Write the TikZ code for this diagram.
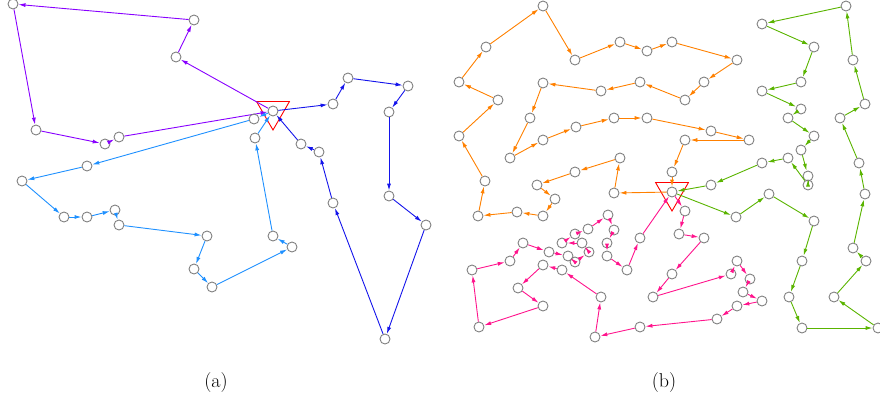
\documentclass[tikz,border=0pt]{standalone}
\usetikzlibrary{arrows.meta,shapes.geometric}

\definecolor{purp}{RGB}{136,0,255}
\definecolor{lblue}{RGB}{30,144,255}
\definecolor{dblue}{RGB}{20,20,235}
\definecolor{orng}{RGB}{255,128,0}
\definecolor{grn}{RGB}{90,180,0}
\definecolor{pnk}{RGB}{255,20,140}

\begin{document}
\begin{tikzpicture}[
    x=1pt, y=-1pt,
    >={Latex[length=7pt,width=4pt]},
    stop/.style={
        circle, draw=gray, line width=0.9pt,
        inner sep=0pt, minimum size=10pt
    },
    depot/.style={
        regular polygon, regular polygon sides=3,
        shape border rotate=180, draw=red, line width=0.9pt,
        inner sep=0pt, minimum size=38pt
    },
    tour/.style={->, line width=0.9pt},
    caption/.style={font=\fontsize{20}{24}\selectfont}
]

\useasboundingbox (0,0) rectangle (880,405);

% Depots
\node[depot] (TA) at (273,111) {};
\node[stop]  (A0) at (273,111) {};
\node[depot] (TB) at (672,192) {};
\node[stop]  (B0) at (672,192) {};

% (a) Tour 1 (lila)
\foreach \i/\x/\y in {1/176/57, 2/194/20, 3/13/4, 4/36/130, 5/105/144, 6/119/137}
    \node[stop] (pu\i) at (\x,\y) {};
\draw[tour, purp] (A0) -- (pu1);
\foreach \i [count=\j from 2] in {1,...,5}
    \draw[tour, purp] (pu\i) -- (pu\j);
\draw[tour, purp] (pu6) -- (A0);

% (a) Tour 2 (hellblau)
\foreach \i/\x/\y in {1/254/119, 2/87/166, 3/22/181, 4/64/217, 5/87/217,
    6/115/210, 7/119/225, 8/207/236, 9/194/269, 10/212/287, 11/292/247,
    12/273/236, 13/255/138}
    \node[stop] (lb\i) at (\x,\y) {};
\draw[tour, lblue] (A0) -- (lb1);
\foreach \i [count=\j from 2] in {1,...,12}
    \draw[tour, lblue] (lb\i) -- (lb\j);
\draw[tour, lblue] (lb13) -- (A0);

% (a) Tour 3 (blau)
\foreach \i/\x/\y in {1/333/104, 2/348/78, 3/408/86, 4/389/112, 5/389/196,
    6/426/225, 7/385/339, 8/333/203, 9/319/152, 10/301/144}
    \node[stop] (db\i) at (\x,\y) {};
\draw[tour, dblue] (A0) -- (db1);
\foreach \i [count=\j from 2] in {1,...,9}
    \draw[tour, dblue] (db\i) -- (db\j);
\draw[tour, dblue] (db10) -- (A0);

% (b) Tour 1 (orange)
\foreach \i/\x/\y in {1/614/193, 2/620/158, 3/575/172, 4/537/185, 5/555/199,
    6/543/216, 7/517/212, 8/478/216, 9/485/181, 10/459/136, 11/498/100,
    12/459/82, 13/486/47, 14/543/6, 15/575/60, 16/620/42, 17/647/51,
    18/672/42, 19/737/60, 20/704/82, 21/685/100, 22/640/82, 23/601/91,
    24/543/83, 25/530/118, 26/510/158, 27/543/140, 28/576/127, 29/614/118,
    30/647/118, 31/711/131, 32/749/140, 33/685/140, 34/672/172}
    \node[stop] (or\i) at (\x,\y) {};
\draw[tour, orng] (B0) -- (or1);
\foreach \i [count=\j from 2] in {1,...,33}
    \draw[tour, orng] (or\i) -- (or\j);
\draw[tour, orng] (or34) -- (B0);

% (b) Tour 2 (gruen)
\foreach \i/\x/\y in {1/736/217, 2/769/194, 3/814/221, 4/802/261, 5/789/297,
    6/802/328, 7/878/328, 8/834/297, 9/866/261, 10/853/248, 11/865/194,
    12/859/163, 13/840/118, 14/865/104, 15/853/60, 16/846/6, 17/762/24,
    18/814/47, 19/801/82, 20/762/91, 21/801/109, 22/788/118, 23/814/136,
    24/801/150, 25/808/176, 26/808/185, 27/788/158, 28/762/163, 29/711/185}
    \node[stop] (gr\i) at (\x,\y) {};
\draw[tour, grn] (B0) -- (gr1);
\foreach \i [count=\j from 2] in {1,...,28}
    \draw[tour, grn] (gr\i) -- (gr\j);
\draw[tour, grn] (gr29) -- (B0);

% (b) Tour 3 (pink)
\foreach \i/\x/\y in {1/685/211, 2/679/234, 3/704/238, 4/672/274, 5/653/297,
    6/731/274, 7/737/261, 8/750/279, 9/743/292, 10/762/301, 11/737/306,
    12/717/319, 13/640/327, 14/595/337, 15/601/297, 16/562/270, 17/543/265,
    18/518/288, 19/543/306, 20/479/327, 21/472/270, 22/510/261, 23/523/243,
    24/549/252, 25/568/256, 26/575/262, 27/589/252, 28/582/243, 29/562/243,
    30/575/234, 31/588/229, 32/608/215, 33/614/230, 34/607/243, 35/607/256,
    36/627/270, 37/640/238}
    \node[stop] (pk\i) at (\x,\y) {};
\draw[tour, pnk] (B0) -- (pk1);
\foreach \i [count=\j from 2] in {1,...,36}
    \draw[tour, pnk] (pk\i) -- (pk\j);
\draw[tour, pnk] (pk37) -- (B0);

% Unterschriften
\node[caption] (capA) at (216,383) {(a)};
\node[caption] (capB) at (664,383) {(b)};

\end{tikzpicture}
\end{document}
